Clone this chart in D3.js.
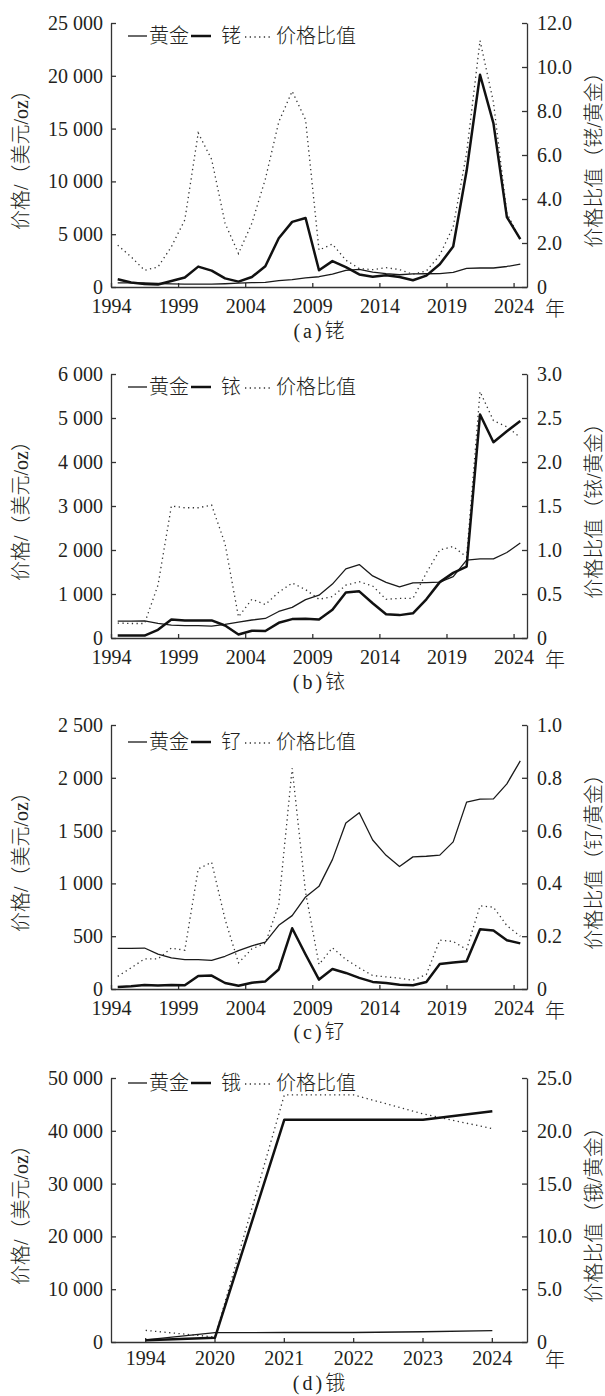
<!DOCTYPE html>
<html><head><meta charset="utf-8">
<script src="https://cdn.jsdelivr.net/npm/d3@7/dist/d3.min.js"></script>
<style>
body{margin:0;background:#fff}
svg{display:block}
</style>
</head><body>
<svg id="c" width="605" height="1396"></svg>
<script>
// ---------------- data ----------------
const years = [1994,1995,1996,1997,1998,1999,2000,2001,2002,2003,2004,2005,2006,2007,2008,2009,2010,2011,2012,2013,2014,2015,2016,2017,2018,2019,2020,2021,2022,2023,2024];
const xTickYears = [1994,1999,2004,2009,2014,2019,2024];
const xTickLabels = ["1994","1999","2004","2009","2014","2019","2024"];

const goldPrice = [384,384,388,331,294,279,279,271,310,363,409,444,603,695,872,972,1225,1572,1669,1411,1266,1160,1251,1257,1268,1393,1770,1799,1800,1943,2160];

const rhodiumPrice = [730,430,290,240,560,900,1930,1550,820,510,950,1960,4620,6170,6530,1590,2450,1880,1190,980,1120,950,640,1080,2150,3830,11000,20100,15500,6620,4540];
const rhodiumRatio = [1.9,1.37,0.76,0.91,1.83,3.05,7.0,5.8,2.9,1.52,2.9,4.9,7.5,8.9,7.6,1.68,1.95,1.22,0.84,0.79,0.88,0.79,0.58,0.73,1.45,2.74,6.1,11.2,8.4,3.36,2.15];

const iridiumPrice = [55,55,55,185,420,400,400,400,285,80,165,160,345,430,440,420,640,1035,1060,790,540,520,560,880,1270,1480,1620,5080,4450,4700,4930];
const iridiumRatio = [0.17,0.165,0.165,0.6,1.5,1.48,1.48,1.51,1.07,0.24,0.44,0.38,0.52,0.625,0.55,0.44,0.47,0.6,0.64,0.59,0.44,0.45,0.45,0.74,1.0,1.04,0.92,2.8,2.47,2.4,2.28];

const rutheniumPrice = [20,25,38,32,38,35,124,127,57,30,60,72,185,575,327,89,190,152,105,67,57,41,35,67,237,250,262,565,555,462,432];
const rutheniumRatio = [0.048,0.08,0.114,0.114,0.155,0.147,0.455,0.48,0.264,0.099,0.152,0.173,0.32,0.836,0.366,0.093,0.156,0.112,0.08,0.051,0.046,0.041,0.033,0.055,0.185,0.18,0.15,0.315,0.31,0.24,0.20];

const osmiumCats = ["1994","2020","2021","2022","2023","2024"];
const osmiumGold = [384,1770,1799,1800,1943,2160];
const osmiumPrice = [330,820,42100,42100,42100,43700];
const osmiumRatio = [1.1,0.47,23.4,23.4,21.6,20.2];

const yTicksA = [0,5000,10000,15000,20000,25000];
const yLabelsA = ["0","5 000","10 000","15 000","20 000","25 000"];
const rTicksA = [0,2,4,6,8,10,12];
const rLabelsA = ["0","2.0","4.0","6.0","8.0","10.0","12.0"];

const yTicksB = [0,1000,2000,3000,4000,5000,6000];
const yLabelsB = ["0","1 000","2 000","3 000","4 000","5 000","6 000"];
const rTicksB = [0,0.5,1,1.5,2,2.5,3];
const rLabelsB = ["0","0.5","1.0","1.5","2.0","2.5","3.0"];

const yTicksC = [0,500,1000,1500,2000,2500];
const yLabelsC = ["0","500","1 000","1 500","2 000","2 500"];
const rTicksC = [0,0.2,0.4,0.6,0.8,1.0];
const rLabelsC = ["0","0.2","0.4","0.6","0.8","1.0"];

const yTicksD = [0,10000,20000,30000,40000,50000];
const yLabelsD = ["0","10 000","20 000","30 000","40 000","50 000"];
const rTicksD = [0,5,10,15,20,25];
const rLabelsD = ["0","5.0","10.0","15.0","20.0","25.0"];

const legendGold = "黄金";
const legendRatio = "价格比值";
const yTitle = "价格/（美元/oz）";
const unitYear = "年";

// ---------------- drawing ----------------
const svg = d3.select("#c");
const INK = "#231f20";
const NUMF = "'Liberation Serif', 'Noto Sans CJK SC', serif";
const CJKF = "'Noto Sans CJK SC', sans-serif";
const xLeft = 111, xRight = 527, PH = 264;

function styleAxis(sel) {
  sel.selectAll("path, line").attr("stroke", "#333").attr("stroke-width", 1.3);
  sel.selectAll("text").attr("font-size", 20).attr("font-family", NUMF).attr("fill", INK);
  sel.attr("font-size", null).attr("font-family", null);
}

function panel(cfg) {
  const top = cfg.top, bottom = top + PH;
  const g = svg.append("g");
  const y = d3.scaleLinear().domain([0, cfg.yMax]).range([bottom, top]);
  const r = d3.scaleLinear().domain([0, cfg.rMax]).range([bottom, top]);
  let px, axB;
  if (cfg.mode === "year") {
    const x = d3.scaleLinear().domain([years[0], years[years.length - 1] + 1]).range([xLeft, xRight]);
    px = (d, i) => x(cfg.cats[i] + 0.5);
    axB = d3.axisBottom(x).tickValues(xTickYears).tickFormat((d, i) => xTickLabels[i]);
  } else {
    const x = d3.scaleBand().domain(cfg.cats).range([xLeft, xRight]).paddingInner(0).paddingOuter(0);
    px = (d, i) => x(cfg.cats[i]) + x.bandwidth() / 2;
    axB = d3.axisBottom(x);
  }
  axB.tickSizeInner(-4).tickSizeOuter(0).tickPadding(cfg.xPad);

  g.append("g").attr("transform", `translate(0,${bottom})`).call(axB).call(styleAxis);
  g.append("g").attr("transform", `translate(${xLeft},0)`)
    .call(d3.axisLeft(y).tickValues(cfg.yTicks).tickFormat((d, i) => cfg.yLabels[i]).tickSizeInner(-5).tickSizeOuter(0).tickPadding(8))
    .call(styleAxis);
  g.append("g").attr("transform", `translate(${xRight},0)`)
    .call(d3.axisRight(r).tickValues(cfg.rTicks).tickFormat((d, i) => cfg.rLabels[i]).tickSizeInner(-5).tickSizeOuter(0).tickPadding(10))
    .call(styleAxis);

  // series
  const lineY = d3.line().x(px).y(d => y(d));
  const lineR = d3.line().x(px).y(d => r(d));
  g.append("path").attr("d", lineY(cfg.gold)).attr("fill", "none").attr("stroke", "#1a1a1a").attr("stroke-width", 1.3).attr("stroke-linejoin", "round");
  g.append("path").attr("d", lineR(cfg.ratio)).attr("fill", "none").attr("stroke", "#333").attr("stroke-width", 1.3).attr("stroke-dasharray", "1.3 3.4");
  g.append("path").attr("d", lineY(cfg.metal)).attr("fill", "none").attr("stroke", "#111").attr("stroke-width", 2.5).attr("stroke-linejoin", "round");

  // legend
  const ly = top + cfg.legendDy;
  const lg = g.append("g");
  lg.append("line").attr("x1", 128).attr("x2", 147).attr("y1", ly).attr("y2", ly).attr("stroke", "#1a1a1a").attr("stroke-width", 1.3);
  lg.append("text").attr("x", 149).attr("y", ly + 7).text(legendGold);
  lg.append("line").attr("x1", 191).attr("x2", 211).attr("y1", ly).attr("y2", ly).attr("stroke", "#111").attr("stroke-width", 2.5);
  lg.append("text").attr("x", 221).attr("y", ly + 7).text(cfg.metalName);
  lg.append("line").attr("x1", 245).attr("x2", 273).attr("y1", ly + 1).attr("y2", ly + 1).attr("stroke", "#333").attr("stroke-width", 1.3).attr("stroke-dasharray", "1.3 3.4");
  lg.append("text").attr("x", 276).attr("y", ly + 7).text(legendRatio);
  lg.selectAll("text").attr("font-size", 20).attr("font-family", CJKF).attr("font-weight", 300).attr("fill", INK);

  // titles
  const mid = (top + bottom) / 2;
  g.append("text").attr("transform", `translate(28,${mid}) rotate(-90)`).attr("text-anchor", "middle")
    .attr("font-size", 20).attr("font-family", NUMF).attr("font-weight", 300).attr("fill", INK).text(yTitle);
  g.append("text").attr("transform", `translate(601,${mid}) rotate(-90)`).attr("text-anchor", "middle")
    .attr("font-size", 20).attr("font-family", NUMF).attr("font-weight", 300).attr("fill", INK).text(cfg.rTitle);
  g.append("text").attr("x", 555).attr("y", bottom + cfg.unitDy).attr("text-anchor", "middle")
    .attr("font-size", 20).attr("font-family", CJKF).attr("font-weight", 300).attr("fill", INK).text(unitYear);
  const cap = g.append("text").attr("x", (xLeft + xRight) / 2).attr("y", bottom + cfg.capDy).attr("text-anchor", "middle")
    .attr("font-size", 20).attr("font-family", NUMF).attr("fill", INK);
  cap.append("tspan").attr("letter-spacing", 3).text(cfg.capTag);
  cap.append("tspan").attr("font-family", CJKF).attr("font-weight", 300).text(cfg.metalName);
}

panel({top: 23, mode: "year", cats: years, gold: goldPrice, metal: rhodiumPrice, ratio: rhodiumRatio,
  yMax: 25000, yTicks: yTicksA, yLabels: yLabelsA, rMax: 12, rTicks: rTicksA, rLabels: rLabelsA,
  metalName: "铑", rTitle: "价格比值（铑/黄金）", capTag: "(a)", legendDy: 13, xPad: 12, unitDy: 29, capDy: 51});
panel({top: 374, mode: "year", cats: years, gold: goldPrice, metal: iridiumPrice, ratio: iridiumRatio,
  yMax: 6000, yTicks: yTicksB, yLabels: yLabelsB, rMax: 3, rTicks: rTicksB, rLabels: rLabelsB,
  metalName: "铱", rTitle: "价格比值（铱/黄金）", capTag: "(b)", legendDy: 13, xPad: 12, unitDy: 29, capDy: 51});
panel({top: 725, mode: "year", cats: years, gold: goldPrice, metal: rutheniumPrice, ratio: rutheniumRatio,
  yMax: 2500, yTicks: yTicksC, yLabels: yLabelsC, rMax: 1, rTicks: rTicksC, rLabels: rLabelsC,
  metalName: "钌", rTitle: "价格比值（钌/黄金）", capTag: "(c)", legendDy: 17, xPad: 12, unitDy: 29, capDy: 50});
panel({top: 1078, mode: "cat", cats: osmiumCats, gold: osmiumGold, metal: osmiumPrice, ratio: osmiumRatio,
  yMax: 50000, yTicks: yTicksD, yLabels: yLabelsD, rMax: 25, rTicks: rTicksD, rLabels: rLabelsD,
  metalName: "锇", rTitle: "价格比值（锇/黄金）", capTag: "(d)", legendDy: 5, xPad: 9, unitDy: 25, capDy: 48});
</script>
</body></html>
